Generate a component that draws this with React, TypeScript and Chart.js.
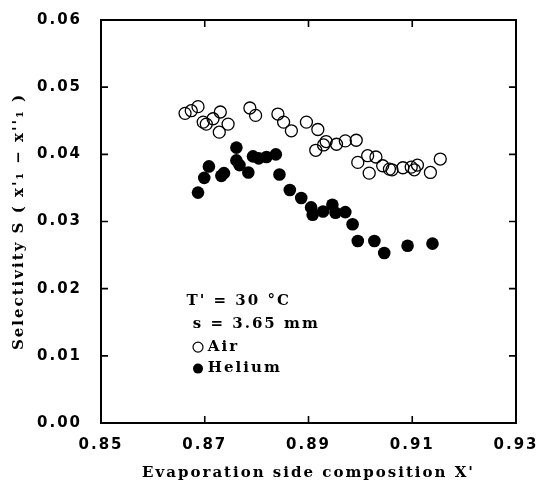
import React, { useEffect, useRef } from "react";
import { Chart, registerables } from "chart.js";

Chart.register(...registerables);

// ---- data ----
const AIR_X = [
  0.8662, 0.8674, 0.8687, 0.8697, 0.8703, 0.8716, 0.8730, 0.8745, 0.8728,
  0.8787, 0.8798, 0.8841, 0.8852, 0.8867, 0.8896, 0.8918, 0.8934, 0.8914,
  0.8929, 0.8954, 0.8971, 0.8992, 0.8995, 0.9014, 0.9030, 0.9017, 0.9043,
  0.9056, 0.9061, 0.9082, 0.9098, 0.9104, 0.9110, 0.9135, 0.9154,
];
const AIR_Y = [
  0.0461, 0.0465, 0.0471, 0.0448, 0.0445, 0.0453, 0.0463, 0.0445, 0.0433,
  0.0469, 0.0458, 0.0460, 0.0448, 0.0435, 0.0448, 0.0437, 0.0419, 0.0406,
  0.0414, 0.0415, 0.0420, 0.0421, 0.0388, 0.0398, 0.0396, 0.0372, 0.0383,
  0.0378, 0.0377, 0.0380, 0.0381, 0.0377, 0.0384, 0.0373, 0.0393,
];
const HELIUM_X = [
  0.8687, 0.8699, 0.8708, 0.8732, 0.8737, 0.8761, 0.8761, 0.8767, 0.8784,
  0.8793, 0.8804, 0.8819, 0.8837, 0.8844, 0.8864, 0.8886, 0.8905, 0.8908,
  0.8928, 0.8946, 0.8952, 0.8971, 0.8985, 0.8995, 0.9027, 0.9046, 0.9091,
  0.9139,
];
const HELIUM_Y = [
  0.0343, 0.0365, 0.0382, 0.0368, 0.0372, 0.0410, 0.0391, 0.0384, 0.0373,
  0.0397, 0.0394, 0.0396, 0.0400, 0.0370, 0.0347, 0.0335, 0.0321, 0.0310,
  0.0315, 0.0325, 0.0313, 0.0314, 0.0296, 0.0271, 0.0271, 0.0253, 0.0264,
  0.0267,
];
const X_TICKS = [0.85, 0.87, 0.89, 0.91, 0.93];
const Y_TICKS = [0.0, 0.01, 0.02, 0.03, 0.04, 0.05, 0.06];
const X_TITLE = "Evaporation side composition X'";
const Y_TITLE = "Selectivity S ( x'\u2081 \u2212 x''\u2081 )";
const NOTE_LINES = ["T' = 30 \u00b0C", "s = 3.65 mm"];
const LEGEND_LABELS = ["Air", "Helium"];

// annotation anchors, in data units
const NOTE_X = [0.8665, 0.8677];
const NOTE_Y = [0.0181, 0.0147];
const LEGEND_MARK_X = 0.8687;
const LEGEND_TEXT_X = 0.8706;
const LEGEND_Y = [0.0113, 0.0081];

const SANS = "'DejaVu Sans', sans-serif";
const SERIF = "'DejaVu Serif', serif";

const framePlugin = {
  id: "frame",
  beforeDraw(chart: any) {
    chart.ctx.letterSpacing = "2px";
  },
  afterDraw(chart: any) {
    const { ctx, chartArea: a, scales } = chart;
    const xs = scales.x;
    const ys = scales.y;
    ctx.save();
    ctx.strokeStyle = "#000";
    ctx.lineWidth = 2;
    ctx.strokeRect(a.left, a.top, a.right - a.left, a.bottom - a.top);
    ctx.lineWidth = 1.6;
    const L = 7;
    ctx.beginPath();
    xs.ticks.forEach((t: any) => {
      const px = xs.getPixelForValue(t.value);
      ctx.moveTo(px, a.bottom);
      ctx.lineTo(px, a.bottom - L);
      ctx.moveTo(px, a.top);
      ctx.lineTo(px, a.top + L);
    });
    ys.ticks.forEach((t: any) => {
      const py = ys.getPixelForValue(t.value);
      ctx.moveTo(a.left, py);
      ctx.lineTo(a.left + L, py);
      ctx.moveTo(a.right, py);
      ctx.lineTo(a.right - L, py);
    });
    ctx.stroke();

    // annotation text
    ctx.fillStyle = "#000";
    ctx.font = `bold 15px ${SERIF}`;
    ctx.textBaseline = "middle";
    ctx.textAlign = "left";
    NOTE_LINES.forEach((s, i) => {
      ctx.fillText(s, xs.getPixelForValue(NOTE_X[i]), ys.getPixelForValue(NOTE_Y[i]));
    });
    LEGEND_LABELS.forEach((s, i) => {
      const py = ys.getPixelForValue(LEGEND_Y[i]);
      const mx = xs.getPixelForValue(LEGEND_MARK_X);
      ctx.beginPath();
      ctx.arc(mx, py, 5, 0, Math.PI * 2);
      if (i === 0) {
        ctx.lineWidth = 1.2;
        ctx.stroke();
      } else {
        ctx.fill();
      }
      ctx.fillText(s, xs.getPixelForValue(LEGEND_TEXT_X), py);
    });
    ctx.restore();
    ctx.letterSpacing = "0px";
  },
};

export default function App() {
  const ref = useRef<HTMLCanvasElement | null>(null);
  useEffect(() => {
    document.body.style.margin = "0";
    const canvas = ref.current;
    if (!canvas) return;
    const chart = new Chart(canvas, {
      type: "scatter",
      data: {
        datasets: [
          {
            label: LEGEND_LABELS[0],
            data: AIR_X.map((x, i) => ({ x, y: AIR_Y[i] })),
            pointRadius: 6,
            pointBorderWidth: 1.3,
            pointBackgroundColor: "rgba(255,255,255,0)",
            pointBorderColor: "#000",
          },
          {
            label: LEGEND_LABELS[1],
            data: HELIUM_X.map((x, i) => ({ x, y: HELIUM_Y[i] })),
            pointRadius: 6.3,
            pointBorderWidth: 0,
            pointBackgroundColor: "#000",
            pointBorderColor: "#000",
          },
        ],
      },
      options: {
        animation: false,
        responsive: false,
        devicePixelRatio: 1,
        layout: { padding: { top: 15, right: 31, bottom: 0, left: 0 } },
        plugins: {
          legend: { display: false },
          tooltip: { enabled: false },
        },
        scales: {
          x: {
            type: "linear",
            min: 0.85,
            max: 0.93,
            grid: { display: false },
            border: { display: false },
            afterBuildTicks: (s: any) => {
              s.ticks = X_TICKS.map((v) => ({ value: v }));
            },
            afterFit: (s: any) => {
              s.height = 65;
            },
            ticks: {
              padding: 5,
              color: "#000",
              font: { family: SANS, weight: "bold", size: 15 },
              maxRotation: 0,
              autoSkip: false,
              callback: (v: any) => Number(v).toFixed(2),
            },
            title: {
              display: true,
              text: X_TITLE,
              color: "#000",
              font: { family: SERIF, weight: "bold", size: 15 },
              padding: { top: 0, bottom: 6 },
            },
          },
          y: {
            type: "linear",
            min: 0,
            max: 0.06,
            grid: { display: false },
            border: { display: false },
            afterBuildTicks: (s: any) => {
              s.ticks = Y_TICKS.map((v) => ({ value: v }));
            },
            afterFit: (s: any) => {
              s.width = 101;
            },
            ticks: {
              padding: 11,
              color: "#000",
              font: { family: SANS, weight: "bold", size: 15 },
              autoSkip: false,
              callback: (v: any) => Number(v).toFixed(2),
            },
            title: {
              display: true,
              text: Y_TITLE,
              color: "#000",
              font: { family: SERIF, weight: "bold", size: 15 },
              padding: { top: 10, bottom: 0 },
            },
          },
        },
      },
      plugins: [framePlugin],
    });
    return () => chart.destroy();
  }, []);
  return (
    <div style={{ position: "absolute", left: 0, top: 0, width: 547, height: 488, background: "#fff" }}>
      <canvas ref={ref} width={547} height={488} />
    </div>
  );
}
